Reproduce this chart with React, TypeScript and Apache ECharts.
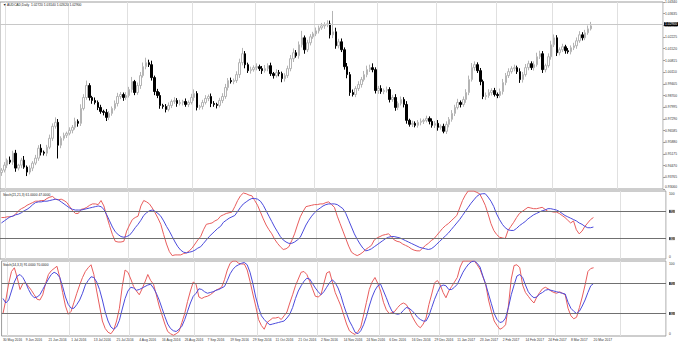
import React, { useEffect, useRef } from "react";
import * as echarts from "echarts";

const symbolName = "AUDCAD,Daily";
const startDate = "2016-05-30";
const holidays = ["2016-12-26", "2017-01-02"];
const totalSlots = 234;
const firstOpen = 0.9405;

// daily closes (bars 0..208)
const closes = [
  0.9420, 0.9450, 0.9480, 0.9468, 0.9522, 0.9432, 0.9450, 0.9480, 0.9438, 0.9408,
  0.9432, 0.9462, 0.9492, 0.9552, 0.9528, 0.9522, 0.9558, 0.9612, 0.9684, 0.9708,
  0.9570, 0.9612, 0.9630, 0.9642, 0.9660, 0.9678, 0.9714, 0.9702, 0.9792, 0.9858,
  0.9930, 0.9858, 0.9840, 0.9828, 0.9798, 0.9774, 0.9768, 0.9738, 0.9762, 0.9792,
  0.9822, 0.9864, 0.9876, 0.9858, 0.9870, 0.9906, 0.9954, 0.9888, 0.9930, 0.9990,
  1.0044, 1.0068, 1.0056, 0.9978, 0.9894, 0.9870, 0.9810, 0.9804, 0.9786, 0.9810,
  0.9834, 0.9840, 0.9822, 0.9828, 0.9834, 0.9816, 0.9828, 0.9858, 0.9882, 0.9798,
  0.9804, 0.9828, 0.9852, 0.9864, 0.9822, 0.9816, 0.9810, 0.9840, 0.9864, 0.9918,
  0.9960, 0.9954, 0.9960, 0.9996, 1.0068, 1.0122, 1.0056, 1.0020, 1.0026, 1.0038,
  1.0044, 1.0032, 1.0020, 1.0032, 1.0050, 1.0002, 0.9990, 1.0008, 1.0002, 0.9972,
  0.9990, 1.0032, 1.0092, 1.0128, 1.0110, 1.0176, 1.0218, 1.0146, 1.0188, 1.0224,
  1.0242, 1.0260, 1.0278, 1.0290, 1.0296, 1.0302, 1.0236, 1.0254, 1.0170, 1.0194,
  1.0146, 1.0044, 0.9996, 0.9888, 0.9876, 0.9912, 0.9936, 0.9966, 0.9996, 1.0026,
  1.0038, 1.0026, 0.9900, 0.9912, 0.9894, 0.9900, 0.9906, 0.9846, 0.9858, 0.9798,
  0.9822, 0.9846, 0.9816, 0.9720, 0.9696, 0.9702, 0.9690, 0.9708, 0.9714, 0.9720,
  0.9732, 0.9714, 0.9690, 0.9702, 0.9678, 0.9684, 0.9654, 0.9696, 0.9726, 0.9762,
  0.9798, 0.9828, 0.9816, 0.9846, 0.9888, 0.9966, 1.0038, 1.0056, 1.0020, 0.9954,
  0.9864, 0.9870, 0.9888, 0.9900, 0.9876, 0.9870, 0.9894, 0.9948, 0.9990, 1.0014,
  1.0032, 1.0038, 1.0014, 0.9966, 0.9996, 1.0038, 1.0062, 1.0038, 1.0056, 1.0104,
  1.0122, 1.0026, 1.0050, 1.0104, 1.0176, 1.0218, 1.0128, 1.0146, 1.0164, 1.0140,
  1.0134, 1.0158, 1.0170, 1.0200, 1.0236, 1.0218, 1.0248, 1.0272, 1.0290,
];

// upper / lower shadow lengths in pips
const wickUpPips = [
  12, 18, 10, 22, 15, 20, 8, 14, 25, 10,
  16, 12, 20, 18, 24, 10, 14, 22, 18, 30,
  20, 12, 16, 10, 18, 14, 22, 12, 25, 20,
  30, 14, 10, 18, 12, 16, 10, 20, 14, 12,
  18, 22, 15, 12, 20, 16, 28, 10, 18, 22,
  25, 30, 18, 24, 12, 16, 20, 10, 14, 18,
  12, 20, 14, 16, 10, 18, 12, 22, 25, 14,
  10, 16, 20, 12, 18, 14, 10, 16, 20, 22,
  15, 18, 12, 20, 24, 35, 16, 12, 18, 14,
  20, 12, 16, 22, 14, 18, 10, 20, 16, 12,
  14, 18, 22, 26, 16, 20, 42, 14, 18, 16,
  12, 20, 14, 18, 16, 22, 20, 126, 25, 18,
  20, 14, 22, 16, 18, 14, 20, 16, 22, 24,
  18, 26, 14, 16, 20, 12, 18, 14, 16, 20,
  12, 18, 14, 20, 10, 16, 12, 14, 18, 10,
  16, 12, 18, 14, 20, 12, 16, 18, 14, 20,
  16, 22, 12, 18, 20, 24, 28, 20, 14, 16,
  12, 18, 20, 14, 16, 12, 18, 22, 16, 20,
  14, 18, 12, 20, 16, 22, 18, 14, 20, 24,
  18, 16, 12, 20, 24, 20, 16, 14, 18, 12,
  16, 14, 18, 20, 22, 16, 18, 20, 24,
];
const wickDownPips = [
  20, 14, 18, 12, 16, 22, 14, 18, 10, 24,
  14, 18, 12, 16, 20, 14, 18, 12, 16, 14,
  80, 18, 14, 16, 12, 18, 14, 20, 16, 12,
  14, 18, 20, 12, 16, 14, 18, 22, 16, 14,
  12, 18, 16, 20, 14, 12, 18, 16, 14, 20,
  12, 16, 14, 18, 22, 16, 20, 14, 18, 12,
  16, 14, 20, 12, 18, 14, 16, 12, 20, 18,
  14, 18, 12, 16, 22, 14, 18, 12, 16, 14,
  18, 12, 16, 14, 20, 16, 22, 14, 18, 12,
  16, 14, 20, 12, 16, 14, 18, 12, 16, 22,
  18, 14, 16, 20, 12, 18, 16, 24, 14, 16,
  12, 14, 16, 12, 18, 14, 22, 20, 18, 16,
  14, 18, 22, 20, 12, 16, 14, 18, 12, 16,
  14, 16, 18, 20, 14, 16, 12, 18, 14, 20,
  16, 12, 18, 20, 14, 16, 12, 14, 18, 16,
  12, 18, 14, 16, 20, 14, 12, 16, 18, 14,
  16, 12, 18, 14, 20, 16, 12, 18, 14, 22,
  16, 20, 14, 18, 12, 16, 14, 18, 16, 14,
  12, 16, 14, 20, 18, 12, 16, 14, 18, 12,
  14, 20, 16, 12, 18, 14, 20, 16, 14, 18,
  12, 16, 14, 18, 12, 16, 14, 12, 10,
];

// Stochastic (21,21,3): main (red) and signal (blue)
const slowMain = [
  61, 61, 62, 62, 63, 66, 71, 74, 76, 79,
  81, 83, 85, 85, 86, 86, 89, 91, 92, 88,
  87, 88, 86, 83, 77, 71, 67, 67, 73, 74,
  76, 79, 81, 81, 80, 86, 78, 63, 49, 36,
  26, 25, 25, 26, 41, 50, 58, 61, 63, 78,
  86, 84, 81, 75, 68, 60, 51, 36, 22, 11,
  5, 6, 6, 6, 8, 9, 12, 16, 22, 28,
  33, 43, 51, 52, 53, 56, 58, 63, 65, 67,
  68, 69, 77, 86, 93, 97, 96, 94, 93, 86,
  79, 69, 59, 50, 43, 37, 29, 23, 18, 14,
  15, 18, 27, 37, 50, 62, 70, 77, 78, 79,
  80, 80, 81, 81, 83, 84, 80, 76, 63, 52,
  41, 30, 19, 10, 7, 5, 7, 10, 14, 17,
  20, 28, 31, 33, 35, 36, 37, 33, 28, 26,
  25, 22, 20, 18, 15, 13, 12, 12, 16, 20,
  23, 27, 30, 35, 40, 45, 49, 52, 56, 60,
  64, 75, 86, 94, 100, 100, 100, 98, 96, 88,
  79, 66, 52, 42, 36, 32, 31, 30, 42, 48,
  54, 61, 67, 70, 73, 76, 75, 74, 74, 75,
  76, 73, 70, 70, 69, 69, 67, 64, 61, 57,
  53, 56, 43, 37, 41, 48, 53, 58, 61,
];
const slowSignal = [
  53, 56, 59, 62, 63, 65, 66, 68, 71, 73,
  76, 80, 83, 84, 84, 85, 85, 86, 87, 88,
  87, 84, 81, 78, 75, 73, 72, 72, 72, 73,
  74, 75, 76, 77, 78, 77, 73, 65, 56, 47,
  40, 36, 33, 32, 33, 35, 40, 46, 51, 57,
  64, 68, 71, 72, 70, 67, 63, 56, 48, 41,
  33, 25, 18, 13, 10, 9, 10, 11, 13, 16,
  18, 23, 28, 33, 37, 41, 45, 48, 54, 57,
  60, 62, 64, 70, 76, 81, 84, 87, 89, 89,
  88, 85, 79, 71, 63, 55, 47, 40, 33, 28,
  25, 23, 23, 25, 28, 32, 41, 50, 57, 63,
  68, 72, 75, 78, 80, 81, 81, 81, 80, 77,
  74, 67, 57, 47, 37, 29, 22, 16, 12, 13,
  15, 18, 21, 24, 27, 30, 32, 33, 33, 32,
  31, 29, 27, 25, 23, 21, 19, 17, 16, 15,
  14, 15, 18, 22, 26, 30, 34, 38, 43, 48,
  53, 58, 64, 70, 76, 82, 87, 92, 95, 96,
  96, 91, 85, 77, 66, 58, 51, 46, 43, 42,
  42, 45, 49, 52, 55, 59, 62, 65, 67, 69,
  71, 72, 74, 74, 73, 72, 70, 67, 64, 62,
  60, 58, 56, 53, 51, 48, 46, 46, 47,
];

// Stochastic (14,3,3): main (red) and signal (blue)
const fastMain = [
  30, 48, 70, 86, 91, 78, 62, 70, 71, 66,
  61, 55, 49, 48, 55, 70, 82, 87, 90, 93,
  78, 58, 40, 29, 33, 45, 57, 68, 78, 86,
  91, 95, 82, 60, 40, 20, 10, 5, 3, 8,
  20, 37, 66, 88, 85, 76, 66, 60, 55, 63,
  72, 82, 74, 69, 55, 40, 28, 16, 6, 3,
  1, 3, 6, 18, 30, 46, 60, 72, 69, 52,
  50, 52, 53, 55, 58, 61, 63, 65, 75, 88,
  97, 100, 100, 97, 96, 96, 88, 73, 56, 40,
  22, 14, 9, 18, 21, 24, 24, 25, 22, 27,
  32, 44, 55, 67, 76, 85, 86, 82, 73, 63,
  53, 52, 55, 70, 84, 86, 72, 58, 49, 40,
  28, 16, 7, 4, 2, 6, 12, 28, 45, 62,
  72, 78, 70, 60, 45, 35, 30, 31, 33, 38,
  42, 44, 42, 36, 27, 20, 14, 11, 16, 24,
  42, 56, 71, 74, 68, 58, 51, 60, 66, 72,
  78, 92, 100, 100, 100, 100, 100, 95, 89, 79,
  69, 48, 33, 20, 14, 9, 11, 15, 40, 76,
  94, 95, 91, 68, 58, 53, 48, 44, 52, 58,
  63, 65, 63, 60, 58, 57, 59, 57, 55, 37,
  27, 23, 25, 38, 52, 68, 86, 90, 91,
];
const fastSignal = [
  50, 44, 48, 60, 72, 80, 82, 78, 71, 62,
  55, 51, 52, 55, 62, 69, 76, 82, 85, 83,
  78, 66, 52, 42, 37, 37, 42, 48, 57, 68,
  74, 79, 78, 72, 62, 48, 32, 20, 12, 9,
  12, 21, 36, 50, 60, 65, 64, 61, 62, 64,
  66, 68, 69, 64, 57, 48, 37, 26, 16, 10,
  7, 6, 9, 13, 22, 33, 44, 53, 57, 63,
  62, 59, 57, 58, 59, 61, 62, 64, 66, 74,
  83, 89, 93, 95, 97, 98, 95, 85, 70, 52,
  38, 27, 22, 18, 15, 16, 17, 18, 19, 20,
  24, 29, 38, 50, 60, 67, 73, 77, 76, 70,
  64, 59, 55, 59, 65, 71, 75, 71, 64, 54,
  41, 30, 20, 13, 5, 3, 7, 15, 26, 40,
  52, 61, 67, 69, 60, 51, 41, 33, 30, 29,
  30, 34, 38, 37, 34, 30, 25, 22, 20, 20,
  27, 38, 49, 58, 66, 68, 67, 62, 62, 65,
  69, 77, 85, 91, 96, 99, 100, 97, 92, 80,
  69, 56, 43, 30, 22, 18, 19, 24, 38, 55,
  68, 80, 82, 78, 68, 59, 54, 51, 52, 56,
  58, 61, 62, 61, 60, 59, 58, 57, 56, 45,
  37, 33, 30, 33, 40, 48, 58, 67, 70,
];

const stochLevels = [70, 30];
const priceAxisMin = 0.9306;
const priceAxisMax = 1.0434;
const priceAxisStep = 0.00705;

const xTickLabels = [
  "30 May 2016", "9 Jun 2016", "21 Jun 2016", "1 Jul 2016", "13 Jul 2016",
  "25 Jul 2016", "4 Aug 2016", "16 Aug 2016", "26 Aug 2016", "7 Sep 2016",
  "19 Sep 2016", "29 Sep 2016", "11 Oct 2016", "21 Oct 2016", "2 Nov 2016",
  "14 Nov 2016", "24 Nov 2016", "6 Dec 2016", "16 Dec 2016", "29 Dec 2016",
  "11 Jan 2017", "23 Jan 2017", "2 Feb 2017", "14 Feb 2017", "24 Feb 2017",
  "8 Mar 2017", "20 Mar 2017",
];

const MONTHS = ["Jan", "Feb", "Mar", "Apr", "May", "Jun", "Jul", "Aug", "Sep", "Oct", "Nov", "Dec"];

function buildDates(): string[] {
  const out: string[] = [];
  const d = new Date(startDate + "T00:00:00Z");
  while (out.length < totalSlots) {
    const wd = d.getUTCDay();
    const iso = d.toISOString().slice(0, 10);
    if (wd !== 0 && wd !== 6 && holidays.indexOf(iso) < 0) {
      out.push(`${d.getUTCDate()} ${MONTHS[d.getUTCMonth()]} ${d.getUTCFullYear()}`);
    }
    d.setUTCDate(d.getUTCDate() + 1);
  }
  return out;
}

const FONT = "Liberation Sans, DejaVu Sans, sans-serif";
const FS = 3.3;

export default function App() {
  const ref = useRef<HTMLDivElement>(null);
  useEffect(() => {
    if (!ref.current) return;
    const chart = echarts.init(ref.current, null, { renderer: "svg" });
    const dates = buildDates();
    const monthStart = dates.map((s, i) => i > 0 && s.split(" ")[1] !== dates[i - 1].split(" ")[1]);
    const tickSet = new Set(xTickLabels);

    const candles = closes.map((c, i) => {
      const o = i === 0 ? firstOpen : closes[i - 1];
      const hi = Math.max(o, c) + wickUpPips[i] * 0.0001;
      const lo = Math.min(o, c) - wickDownPips[i] * 0.0001;
      return [o, c, lo, hi];
    });
    const last = candles[candles.length - 1];
    const lastClose = closes[closes.length - 1];

    const grids = [
      { left: 0, right: 14, top: 2, height: 187 },
      { left: 0, right: 14, top: 191, height: 68 },
      { left: 0, right: 14, top: 261, height: 75 },
    ].map((g) => ({ ...g, show: true, borderColor: "#9c9c9c", borderWidth: 1, backgroundColor: "transparent" }));

    const xAxes = [0, 1, 2].map((i) => ({
      type: "category",
      gridIndex: i,
      data: dates,
      boundaryGap: true,
      axisLine: { show: false },
      axisTick: { show: false },
      axisLabel:
        i === 2
          ? {
              show: true,
              interval: (_idx: number, val: string) => tickSet.has(val),
              align: "left",
              fontSize: FS,
              fontFamily: FONT,
              color: "#333",
              margin: 2,
            }
          : { show: false },
      splitLine: {
        show: true,
        interval: (idx: number) => monthStart[idx],
        lineStyle: { color: "#e0e0e0", width: 1 },
      },
    }));

    const edgeRich = {
      hi: { fontSize: FS, color: "#333", padding: [5, 0, 0, 0] },
      lo: { fontSize: FS, color: "#333", padding: [0, 0, 5, 0] },
    };

    const stochAxis = (i: number) => ({
      type: "value",
      gridIndex: i,
      position: "right",
      min: 0,
      max: 100,
      interval: 10,
      axisLine: { show: false },
      axisTick: { show: false },
      splitLine: { show: false },
      axisLabel: {
        fontSize: FS,
        fontFamily: FONT,
        color: "#333",
        margin: 3,
        formatter: (v: number) =>
          v === 100
            ? `{hi|${v}}`
            : v === 0
            ? `{lo|${v}}`
            : stochLevels.indexOf(v) >= 0
            ? `{lv|${v}}`
            : "",
        rich: {
          ...edgeRich,
          lv: { backgroundColor: "#444", color: "#fff", fontSize: FS, padding: [0, 1, 0, 1] },
        },
      },
    });

    const levelMark = {
      symbol: "none",
      silent: true,
      label: { show: false },
      lineStyle: { color: "#707070", width: 1, type: "solid" },
      data: stochLevels.map((v) => ({ yAxis: v })),
    };

    const lineSeries = (data: number[], axis: number, color: string, withLevels: boolean) => ({
      type: "line",
      xAxisIndex: axis,
      yAxisIndex: axis,
      data,
      showSymbol: false,
      smooth: false,
      lineStyle: { color, width: 1 },
      itemStyle: { color },
      z: 3,
      ...(withLevels ? { markLine: levelMark } : {}),
    });

    const option: any = {
      animation: false,
      backgroundColor: "#ffffff",
      textStyle: { fontFamily: FONT },
      grid: grids,
      xAxis: xAxes,
      yAxis: [
        {
          type: "value",
          gridIndex: 0,
          position: "right",
          min: priceAxisMin,
          max: priceAxisMax,
          interval: priceAxisStep,
          axisLine: { show: false },
          axisTick: { show: true, length: 2, lineStyle: { color: "#9c9c9c" } },
          splitLine: { show: false },
          axisLabel: {
            fontSize: FS,
            fontFamily: FONT,
            color: "#333",
            margin: 2,
            formatter: (v: number) =>
              Math.abs(v - priceAxisMin) < 1e-7 ? `{lo|${v.toFixed(5)}}` : v.toFixed(5),
            rich: edgeRich,
          },
        },
        stochAxis(1),
        stochAxis(2),
      ],
      series: [
        {
          type: "candlestick",
          xAxisIndex: 0,
          yAxisIndex: 0,
          data: candles,
          barWidth: 2,
          itemStyle: {
            color: "#ffffff",
            color0: "#000000",
            borderColor: "#b4b4b4",
            borderColor0: "#000000",
            borderWidth: 1,
          },
          markLine: {
            symbol: "none",
            silent: true,
            lineStyle: { color: "#c8c8c8", width: 1, type: "solid" },
            label: {
              show: true,
              position: "end",
              distance: 1,
              formatter: () => lastClose.toFixed(5),
              backgroundColor: "#000",
              color: "#fff",
              fontSize: FS,
              fontFamily: FONT,
              padding: [1, 1, 0, 1],
            },
            data: [{ yAxis: lastClose }],
          },
        },
        lineSeries(slowMain, 1, "#e85d5d", true),
        lineSeries(slowSignal, 1, "#4b4bdc", false),
        lineSeries(fastMain, 2, "#e85d5d", true),
        lineSeries(fastSignal, 2, "#4b4bdc", false),
      ],
      graphic: [
        {
          type: "text",
          left: 3,
          top: 3,
          z: 100,
          style: {
            text: `▼ ${symbolName}  ${last[0].toFixed(5)} ${last[3].toFixed(5)} ${last[2].toFixed(5)} ${last[1].toFixed(5)}`,
            fontSize: FS,
            fontFamily: FONT,
            fill: "#222",
          },
        },
        {
          type: "text",
          left: 3,
          top: 193,
          z: 100,
          style: {
            text: `Stoch(21,21,3) ${slowMain[slowMain.length - 1].toFixed(4)} ${slowSignal[slowSignal.length - 1].toFixed(4)}`,
            fontSize: FS,
            fontFamily: FONT,
            fill: "#222",
          },
        },
        {
          type: "text",
          left: 3,
          top: 263,
          z: 100,
          style: {
            text: `Stoch(14,3,3) ${fastMain[fastMain.length - 1].toFixed(4)} ${fastSignal[fastSignal.length - 1].toFixed(4)}`,
            fontSize: FS,
            fontFamily: FONT,
            fill: "#222",
          },
        },
      ],
    };
    chart.setOption(option);
    return () => chart.dispose();
  }, []);
  return (
    <div
      ref={ref}
      style={{ position: "absolute", left: 0, top: 0, width: 680, height: 343, background: "#fff" }}
    />
  );
}
